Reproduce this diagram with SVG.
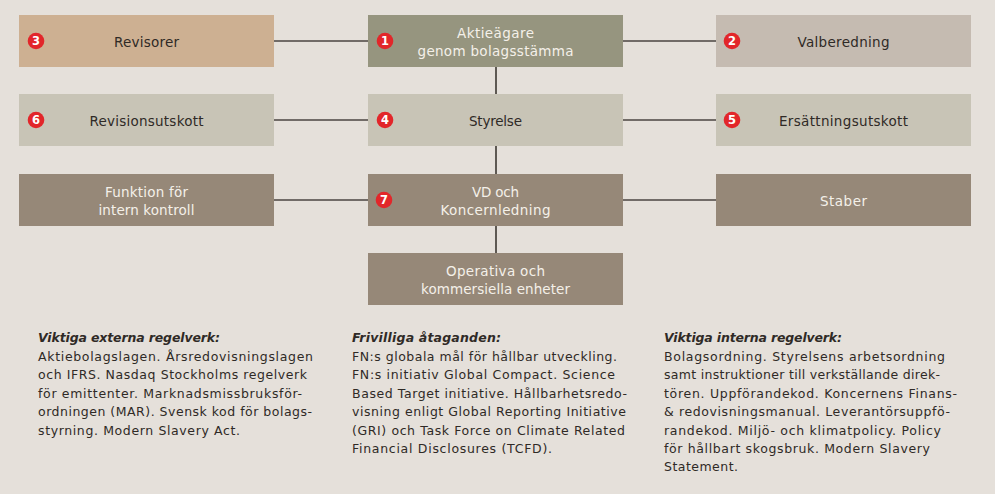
<svg xmlns="http://www.w3.org/2000/svg" width="995" height="494" viewBox="0 0 995 494">
<style>
.lbl{font-family:"DejaVu Sans","Noto Sans",sans-serif;font-size:13.5px;text-anchor:middle;fill:#2f2a26}
.lt{fill:#f4f0e9}
.badge{fill:#e2262a}
.bn{font-family:"DejaVu Sans","Noto Sans",sans-serif;font-size:11.5px;font-weight:bold;fill:#ffffff;text-anchor:middle}
.body{font-family:"DejaVu Sans","Noto Sans",sans-serif;font-size:12.5px;fill:#2f2a26}
.ttl{font-weight:bold;font-style:italic}
.h{stroke:#4a4541;stroke-width:1.4;fill:none}
.v{stroke:#5e5953;stroke-width:2;fill:none}
</style>
<rect width="995" height="494" fill="#e5e0da"/>
<g id="connectors">
<line class="h" x1="274" y1="41" x2="368" y2="41"/>
<line class="h" x1="623" y1="41" x2="716" y2="41"/>
<line class="h" x1="274" y1="120" x2="368" y2="120"/>
<line class="h" x1="623" y1="120" x2="716" y2="120"/>
<line class="h" x1="274" y1="200" x2="368" y2="200"/>
<line class="h" x1="623" y1="200" x2="716" y2="200"/>
<line class="v" x1="496" y1="67" x2="496" y2="94"/>
<line class="v" x1="496" y1="146" x2="496" y2="174"/>
<line class="v" x1="496" y1="226" x2="496" y2="253"/>
</g>
<g id="revisorer">
<rect x="19" y="15" width="255" height="52" fill="#cdb092"/>
<circle class="badge" cx="36" cy="41" r="8.3"/><text class="bn" x="36" y="45">3</text>
<text class="lbl" x="146.5" y="47" textLength="65">Revisorer</text>
</g>
<g id="aktieagare">
<rect x="368" y="15" width="255" height="52" fill="#96957f"/>
<circle class="badge" cx="385" cy="41" r="8.3"/><text class="bn" x="385" y="45">1</text>
<text class="lbl lt" x="495.5" y="38" textLength="77">Aktieägare</text>
<text class="lbl lt" x="495.5" y="56" textLength="156">genom bolagsstämma</text>
</g>
<g id="valberedning">
<rect x="716" y="15" width="255" height="52" fill="#c5bbb1"/>
<circle class="badge" cx="732" cy="41" r="8.3"/><text class="bn" x="732" y="45">2</text>
<text class="lbl" x="843.5" y="47" textLength="92">Valberedning</text>
</g>
<g id="revisionsutskott">
<rect x="19" y="94" width="255" height="52" fill="#c8c4b6"/>
<circle class="badge" cx="36" cy="120" r="8.3"/><text class="bn" x="36" y="124">6</text>
<text class="lbl" x="146.5" y="126" textLength="114">Revisionsutskott</text>
</g>
<g id="styrelse">
<rect x="368" y="94" width="255" height="52" fill="#c8c4b6"/>
<circle class="badge" cx="385" cy="120" r="8.3"/><text class="bn" x="385" y="124">4</text>
<text class="lbl" x="495.5" y="126" textLength="53">Styrelse</text>
</g>
<g id="ersattningsutskott">
<rect x="716" y="94" width="255" height="52" fill="#c8c4b6"/>
<circle class="badge" cx="732" cy="120" r="8.3"/><text class="bn" x="732" y="124">5</text>
<text class="lbl" x="843.5" y="126" textLength="129">Ersättningsutskott</text>
</g>
<g id="intern-kontroll">
<rect x="19" y="174" width="255" height="52" fill="#968878"/>
<text class="lbl lt" x="146.5" y="196.5" textLength="83">Funktion för</text>
<text class="lbl lt" x="146.5" y="215" textLength="96">intern kontroll</text>
</g>
<g id="vd">
<rect x="368" y="174" width="255" height="52" fill="#968878"/>
<circle class="badge" cx="384" cy="200" r="8.3"/><text class="bn" x="384" y="204">7</text>
<text class="lbl lt" x="495.5" y="196.5" textLength="47">VD och</text>
<text class="lbl lt" x="495.5" y="215" textLength="110">Koncernledning</text>
</g>
<g id="staber">
<rect x="716" y="174" width="255" height="52" fill="#968878"/>
<text class="lbl lt" x="843.5" y="206" textLength="47">Staber</text>
</g>
<g id="operativa">
<rect x="368" y="253" width="255" height="52" fill="#968878"/>
<text class="lbl lt" x="495.5" y="275.5" textLength="99">Operativa och</text>
<text class="lbl lt" x="495.5" y="294" textLength="149">kommersiella enheter</text>
</g>
<g id="externa">
<text class="body ttl" x="38" y="342" textLength="182">Viktiga externa regelverk:</text>
<text class="body" x="38" y="360.5" textLength="275">Aktiebolagslagen. Årsredovisningslagen</text>
<text class="body" x="38" y="379" textLength="269">och IFRS. Nasdaq Stockholms regelverk</text>
<text class="body" x="38" y="397.5" textLength="264">för emittenter. Marknadsmissbruksför-</text>
<text class="body" x="38" y="416" textLength="274">ordningen (MAR). Svensk kod för bolags-</text>
<text class="body" x="38" y="434.5" textLength="202">styrning. Modern Slavery Act.</text>
</g>
<g id="frivilliga">
<text class="body ttl" x="352" y="342" textLength="149">Frivilliga åtaganden:</text>
<text class="body" x="352" y="360.5" textLength="265">FN:s globala mål för hållbar utveckling.</text>
<text class="body" x="352" y="379" textLength="263">FN:s initiativ Global Compact. Science</text>
<text class="body" x="352" y="397.5" textLength="275">Based Target initiative. Hållbarhetsredo-</text>
<text class="body" x="352" y="416" textLength="274">visning enligt Global Reporting Initiative</text>
<text class="body" x="352" y="434.5" textLength="273">(GRI) och Task Force on Climate Related</text>
<text class="body" x="352" y="453" textLength="200">Financial Disclosures (TCFD).</text>
</g>
<g id="interna">
<text class="body ttl" x="664" y="342" textLength="178">Viktiga interna regelverk:</text>
<text class="body" x="664" y="360.5" textLength="281">Bolagsordning. Styrelsens arbetsordning</text>
<text class="body" x="664" y="379" textLength="276">samt instruktioner till verkställande direk-</text>
<text class="body" x="664" y="397.5" textLength="293">tören. Uppförandekod. Koncernens Finans-</text>
<text class="body" x="664" y="416" textLength="286">&amp; redovisningsmanual. Leverantörsuppfö-</text>
<text class="body" x="664" y="434.5" textLength="277">randekod. Miljö- och klimatpolicy. Policy</text>
<text class="body" x="664" y="453" textLength="266">för hållbart skogsbruk. Modern Slavery</text>
<text class="body" x="664" y="471" textLength="74">Statement.</text>
</g>
</svg>
